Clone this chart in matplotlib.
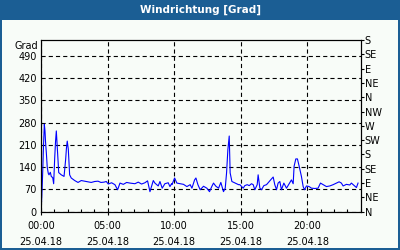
import matplotlib
matplotlib.use("Agg")
import matplotlib.pyplot as plt
from matplotlib.patches import Rectangle
from matplotlib.ticker import MultipleLocator, FixedLocator

plt.rcParams['font.family'] = ['DejaVu Sans']
plt.rcParams['lines.scale_dashes'] = False

title = "Windrichtung [Grad]"
y_label = "Grad"
date_str = "25.04.18"

hours = [0.0, 0.04, 0.08, 0.13, 0.19, 0.25, 0.3, 0.34, 0.4, 0.47, 0.55, 0.6, 0.7, 0.77, 0.88, 0.95,
         1.03, 1.09, 1.15, 1.22, 1.28, 1.33, 1.52, 1.73, 1.85, 1.91, 1.97, 2.05, 2.15, 2.27, 2.53,
         2.78, 3.02, 3.28, 3.53, 3.77, 4.03, 4.28, 4.5, 4.73, 4.9,
         5.05, 5.3, 5.55, 5.75, 5.93, 6.18, 6.43, 6.68, 7.05, 7.3, 7.55, 7.8, 8.0, 8.18, 8.43,
         8.55, 8.8, 8.93, 9.1, 9.3, 9.55, 9.68, 9.8,
         9.83, 10.03, 10.2, 10.45, 10.7, 10.95, 11.2, 11.33, 11.53, 11.63, 11.78, 11.95, 12.2,
         12.45, 12.65, 12.83, 12.95, 13.13, 13.33, 13.5, 13.7, 13.83, 13.93, 14.03, 14.13, 14.2,
         14.33, 14.58, 14.83,
         14.93, 15.18, 15.3, 15.48, 15.63, 15.8, 15.93, 16.05, 16.23, 16.3, 16.43, 16.55, 16.73,
         16.93, 17.13, 17.3, 17.43, 17.55, 17.68, 17.8, 17.93, 18.05, 18.23, 18.43, 18.63, 18.8,
         18.93, 19.0, 19.13, 19.25, 19.38,
         19.55, 19.68, 19.78, 19.93, 20.13, 20.3, 20.55, 20.8, 20.98, 21.18, 21.43, 21.68, 21.93,
         22.18, 22.38, 22.55, 22.68, 22.93, 23.18, 23.3, 23.55, 23.68, 23.8]
values = [37, 30, 69, 127, 210, 275, 254, 220, 186, 139, 120, 116, 124, 111, 107, 88,
          170, 220, 254, 206, 160, 123, 116, 111, 164, 200, 222, 196, 116, 106, 98,
          92, 98, 96, 94, 92, 95, 96, 92, 93, 95,
          87, 91, 85, 69, 90, 86, 92, 90, 88, 93, 87, 91, 97, 63, 98,
          90, 81, 95, 74, 88, 91, 79, 88,
          85, 106, 90, 88, 86, 79, 85, 74, 100, 106, 85, 69, 80,
          74, 63, 80, 90, 80, 74, 92, 63, 74, 122, 196, 238, 122,
          95, 90, 85,
          85, 74, 82, 85, 82, 88, 85, 69, 85, 116, 74, 69, 82,
          85, 95, 103, 109, 85, 69, 90, 95, 69, 90, 74, 88, 100,
          88, 143, 166, 166, 143,
          111, 79, 69, 81, 79, 74, 73, 74, 90, 85, 79, 81, 85,
          90, 94, 90, 81, 86, 84, 90, 81, 76, 90]

left_ticks = [0, 70, 140, 210, 280, 350, 420, 490]
right_ticks = [0, 45, 90, 135, 180, 225, 270, 315, 360, 405, 450, 495, 540]
right_labels = ["N", "NE", "E", "SE", "S", "SW", "W", "NW", "N", "NE", "E", "SE", "S"]
x_major = [0, 5, 10, 15, 20]
x_labels = ["00:00", "05:00", "10:00", "15:00", "20:00"]

W, H = 400, 250
fig = plt.figure(figsize=(4, 2.5), dpi=100)
fig.patch.set_facecolor('#f8fcf8')
blue = '#1b5e94'
# frame and title bar
fig.add_artist(Rectangle((0, 1 - 20 / H), 1, 20 / H, transform=fig.transFigure,
                         facecolor=blue, edgecolor='none', zorder=0))
for r in [(0, 0, 2 / W, 1), (1 - 2 / W, 0, 2 / W, 1), (0, 0, 1, 2 / H)]:
    fig.add_artist(Rectangle(r[:2], r[2], r[3], transform=fig.transFigure,
                             facecolor=blue, edgecolor='none', zorder=0))
fig.text(0.5, 1 - 10 / H, title, color='white', fontsize=7.5, fontweight='bold',
         ha='center', va='center')

ax = fig.add_axes([41 / W, 38.3 / H, (360.7 - 41) / W, (211.7 - 40) / H])
ax.set_facecolor('#f8fcf8')
ax.plot(hours, values, color='#0000ff', lw=0.8)
ax.set_xlim(0, 24)
ax.set_ylim(0, 540)

ax.set_yticks(left_ticks)
ax.set_yticklabels([str(v) for v in left_ticks], fontsize=7)
ax.tick_params(axis='y', length=0, pad=3)
ax.set_xticks(x_major)
ax.set_xticklabels([f"{l}\n{date_str}" for l in x_labels], fontsize=7)
ax.xaxis.set_minor_locator(MultipleLocator(1))
ax.tick_params(axis='x', which='major', direction='out', length=2.5, width=0.8, pad=4)
ax.tick_params(axis='x', which='minor', direction='in', length=2.5, width=0.8)
for t in ax.get_xticklabels():
    t.set_linespacing(1.75)
ax.grid(True, which='major', color='black', linestyle=(0, (3, 2.2)), linewidth=0.8)
for s in ax.spines.values():
    s.set_linewidth(0.8)

ax2 = ax.twinx()
ax2.set_ylim(0, 540)
ax2.set_yticks(right_ticks)
ax2.set_yticklabels(right_labels, fontsize=7)
ax2.tick_params(axis='y', direction='out', length=2, width=0.8, pad=1)
for s in ax2.spines.values():
    s.set_linewidth(0.8)

fig.text(14 / W, 1 - 46 / H, y_label, fontsize=7, ha='left', va='center')

fig.savefig("out.png", dpi=100, facecolor=fig.get_facecolor())
